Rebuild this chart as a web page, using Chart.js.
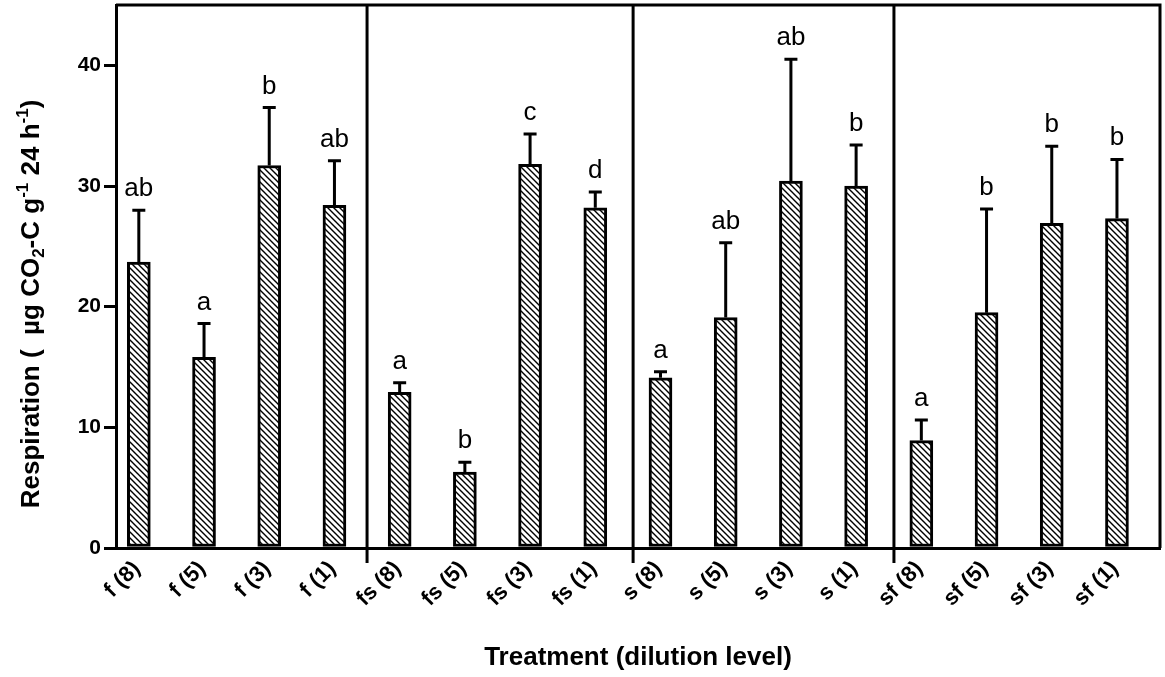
<!DOCTYPE html>
<html>
<head>
<meta charset="utf-8">
<script src="https://cdn.jsdelivr.net/npm/chart.js@4"></script>
<style>
  html, body { margin: 0; padding: 0; background: #fff; }
  #wrap { width: 1165px; height: 677px; position: relative; }
</style>
</head>
<body>
<div id="wrap"><canvas id="c" width="1165" height="677"></canvas></div>
<script>
// ---- data ----
const categories = ['f (8)','f (5)','f (3)','f (1)','fs (8)','fs (5)','fs (3)','fs (1)','s (8)','s (5)','s (3)','s (1)','sf (8)','sf (5)','sf (3)','sf (1)'];
const means  = [23.7, 15.8, 31.7, 28.4, 12.9, 6.3, 31.8, 28.2, 14.1, 19.1, 30.4, 30.0, 8.9, 19.5, 26.9, 27.3];
const errors = [4.3, 2.8, 4.8, 3.7, 0.8, 0.8, 2.5, 1.3, 0.5, 6.2, 10.1, 3.4, 1.7, 8.6, 6.4, 4.9];
const letters = ['ab','a','b','ab','a','b','c','d','a','ab','ab','b','a','b','b','b'];
const yTicks = [0, 10, 20, 30, 40];
const groupSeparators = [3.5, 7.58, 11.58];
const yTitleParts = [['Respiration (  ','n'],['\u00B5g CO','n'],['2','sub'],['-C g','n'],['-1','sup'],[' 24 h','n'],['-1','sup'],[')','n']];
const xTitle = 'Treatment (dilution level)';

// hatch pattern
function makeHatch() {
  const s = 6;
  const pc = document.createElement('canvas');
  pc.width = s; pc.height = s;
  const g = pc.getContext('2d');
  g.fillStyle = '#fff'; g.fillRect(0, 0, s, s);
  g.strokeStyle = '#000'; g.lineWidth = 1.4;
  g.beginPath();
  g.moveTo(-1, -1); g.lineTo(s + 1, s + 1);
  g.moveTo(-1, s - 1); g.lineTo(1, s + 1);
  g.moveTo(s - 1, -1); g.lineTo(s + 1, 1);
  g.stroke();
  return document.getElementById('c').getContext('2d').createPattern(pc, 'repeat');
}

const decor = {
  id: 'decor',
  afterDatasetsDraw(chart) {
    const ctx = chart.ctx, xs = chart.scales.x, ys = chart.scales.y, a = chart.chartArea;
    ctx.save();
    ctx.strokeStyle = '#000';
    ctx.lineWidth = 3;
    // error bars
    means.forEach((m, i) => {
      const x = xs.getPixelForValue(i);
      const y0 = ys.getPixelForValue(m);
      const y1 = ys.getPixelForValue(m + errors[i]);
      ctx.beginPath();
      ctx.moveTo(x, y0); ctx.lineTo(x, y1);
      ctx.moveTo(x - 6.5, y1); ctx.lineTo(x + 6.5, y1);
      ctx.stroke();
      ctx.fillStyle = '#000';
      ctx.font = '26px "Liberation Sans", Arial, sans-serif';
      ctx.textAlign = 'center';
      ctx.textBaseline = 'alphabetic';
      ctx.fillText(letters[i], x, y1 - 14);
    });
    // frame
    ctx.beginPath();
    ctx.moveTo(a.left, a.top); ctx.lineTo(a.right, a.top); ctx.lineTo(a.right, a.bottom);
    ctx.stroke();
    groupSeparators.forEach(v => {
      const x = xs.getPixelForValue(v);
      ctx.beginPath();
      ctx.moveTo(x, a.top); ctx.lineTo(x, a.bottom + 15);
      ctx.stroke();
    });
    // y title
    ctx.save();
    ctx.translate(32, 304);
    ctx.rotate(-Math.PI / 2);
    ctx.textBaseline = 'middle';
    ctx.textAlign = 'left';
    const big = 'bold 26px "Liberation Sans", Arial, sans-serif';
    const small = 'bold 17px "Liberation Sans", Arial, sans-serif';
    let total = 0;
    yTitleParts.forEach(([t, k]) => { ctx.font = k === 'n' ? big : small; total += ctx.measureText(t).width; });
    let px = -total / 2;
    yTitleParts.forEach(([t, k]) => {
      ctx.font = k === 'n' ? big : small;
      const dy = k === 'sub' ? 7 : (k === 'sup' ? -9 : 0);
      ctx.fillText(t, px, dy);
      px += ctx.measureText(t).width;
    });
    ctx.restore();
    // x title
    ctx.font = 'bold 26px "Liberation Sans", Arial, sans-serif';
    ctx.textAlign = 'center';
    ctx.textBaseline = 'alphabetic';
    ctx.fillText(xTitle, 638, 665);
    ctx.restore();
  }
};

const chart = new Chart(document.getElementById('c'), {
  type: 'bar',
  data: {
    datasets: [{
      data: means.map((v, i) => ({ x: i, y: v })),
      backgroundColor: makeHatch(),
      borderColor: '#000',
      borderWidth: 3,
      borderSkipped: false,
      barThickness: 23
    }]
  },
  options: {
    responsive: false,
    animation: false,
    layout: { padding: { top: 5, right: 5, left: 0, bottom: 0 } },
    plugins: { legend: { display: false }, tooltip: { enabled: false } },
    scales: {
      x: {
        type: 'linear',
        offset: false,
        min: -0.35,
        max: 15.66,
        afterBuildTicks: s => { s.ticks = categories.map((_, i) => ({ value: i })); },
        afterFit: s => { s.height = 129; s.paddingLeft = 0; s.paddingRight = 0; },
        grid: { display: false },
        border: { display: true, width: 3, color: '#000' },
        ticks: {
          autoSkip: false,
          maxRotation: 45, minRotation: 45,
          padding: 0,
          labelOffset: -2,
          color: '#000',
          font: { family: '"Liberation Sans", Arial, sans-serif', size: 22, weight: 'bold' },
          callback: v => categories[v]
        }
      },
      y: {
        min: 0, max: 45,
        afterBuildTicks: s => { s.ticks = yTicks.map(v => ({ value: v })); },
        afterFit: s => { s.width = 116; s.paddingTop = 0; s.paddingBottom = 0; },
        grid: { display: true, drawOnChartArea: false, drawTicks: true, tickLength: 12, lineWidth: 3, color: '#000' },
        border: { display: true, width: 3, color: '#000' },
        ticks: {
          padding: 3,
          color: '#000',
          font: { family: '"Liberation Sans", Arial, sans-serif', size: 21, weight: 'bold' }
        }
      }
    }
  },
  plugins: [decor]
});
</script>
</body>
</html>
